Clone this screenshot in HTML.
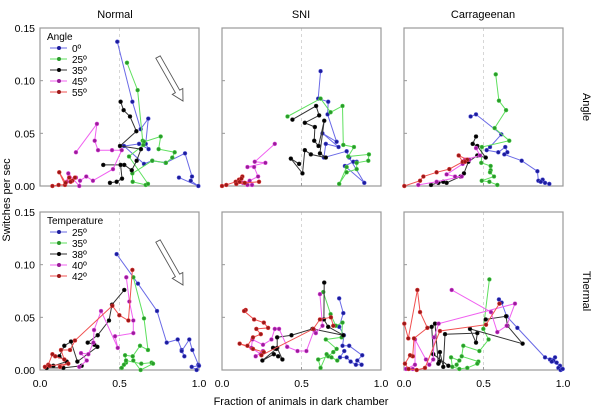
<!DOCTYPE html>
<html><head><meta charset="utf-8">
<style>
html,body{margin:0;padding:0;background:#fff;}
svg{display:block;font-family:"Liberation Sans",Arial,sans-serif;}
</style></head>
<body>
<svg id="chart" width="600" height="419" viewBox="0 0 600 419" xmlns="http://www.w3.org/2000/svg">
<text x="115" y="18" font-size="11" text-anchor="middle">Normal</text>
<text x="301" y="18" font-size="11" text-anchor="middle">SNI</text>
<text x="483" y="18" font-size="11" text-anchor="middle">Carrageenan</text>
<text transform="translate(583,107) rotate(90)" font-size="11" text-anchor="middle">Angle</text>
<text transform="translate(583,291) rotate(90)" font-size="11" text-anchor="middle">Thermal</text>
<text transform="translate(10,200) rotate(-90)" font-size="11" text-anchor="middle">Switches per sec</text>
<text x="301" y="405" font-size="11" text-anchor="middle">Fraction of animals in dark chamber</text>
</svg>
<script>
// Data: [fraction in dark chamber, switches per sec]
const normalAngle0 = [[0.486,0.137],[0.581,0.080],[0.633,0.054],[0.681,0.064],[0.665,0.040],[0.683,0.035],[0.623,0.040],[0.528,0.038],[0.654,0.021],[0.706,0.024],[0.790,0.022],[0.912,0.031],[0.956,0.009],[0.948,0.005],[0.996,0.000],[0.874,0.008]];
const normalAngle25 = [[0.547,0.117],[0.614,0.091],[0.646,0.043],[0.654,0.042],[0.759,0.047],[0.746,0.035],[0.847,0.032],[0.832,0.027],[0.792,0.022],[0.706,0.024],[0.581,0.012],[0.583,0.004],[0.665,0.001],[0.679,0.002],[0.560,0.028],[0.650,0.039]];
const normalAngle35 = [[0.507,0.080],[0.526,0.072],[0.566,0.066],[0.606,0.052],[0.503,0.038],[0.635,0.035],[0.608,0.024],[0.577,0.015],[0.530,0.020],[0.398,0.020],[0.507,0.020],[0.516,0.007],[0.482,0.004],[0.440,0.003]];
const normalAngle45 = [[0.226,0.032],[0.358,0.059],[0.344,0.043],[0.365,0.034],[0.453,0.034],[0.514,0.034],[0.459,0.016],[0.333,0.005],[0.291,0.009],[0.252,0.005],[0.247,0.000],[0.178,0.012],[0.168,0.004],[0.226,0.008]];
const normalAngle55 = [[0.078,0.000],[0.117,0.001],[0.157,0.001],[0.121,0.013],[0.161,0.003],[0.184,0.008],[0.203,0.005],[0.220,0.008],[0.193,0.004]];

const sniAngle0 = [[0.620,0.109],[0.605,0.083],[0.668,0.080],[0.664,0.068],[0.721,0.042],[0.632,0.050],[0.733,0.037],[0.653,0.040],[0.641,0.027],[0.784,0.033],[0.800,0.027],[0.895,0.003],[0.773,0.019],[0.826,0.023],[0.847,0.023]];
const sniAngle25 = [[0.412,0.066],[0.620,0.083],[0.683,0.070],[0.758,0.076],[0.763,0.039],[0.830,0.037],[0.794,0.028],[0.924,0.030],[0.920,0.024],[0.847,0.022],[0.847,0.016],[0.784,0.013],[0.737,0.002],[0.784,0.018]];
const sniAngle35 = [[0.443,0.063],[0.592,0.076],[0.611,0.067],[0.521,0.060],[0.584,0.056],[0.580,0.043],[0.607,0.038],[0.643,0.062],[0.616,0.031],[0.653,0.027],[0.559,0.030],[0.521,0.034],[0.506,0.012],[0.433,0.026],[0.485,0.021]];
const sniAngle45 = [[0.332,0.040],[0.206,0.023],[0.273,0.022],[0.160,0.018],[0.202,0.018],[0.227,0.009],[0.174,0.005],[0.132,0.003],[0.160,0.001],[0.189,0.001]];
const sniAngle55 = [[0.000,0.000],[0.027,0.001],[0.086,0.004],[0.107,0.006],[0.128,0.009],[0.111,0.004],[0.143,0.003],[0.233,0.004],[0.090,0.002],[0.122,0.007]];

const carAngle0 = [[0.419,0.066],[0.453,0.068],[0.612,0.049],[0.541,0.037],[0.520,0.034],[0.593,0.032],[0.637,0.037],[0.650,0.032],[0.631,0.030],[0.740,0.024],[0.839,0.014],[0.845,0.005],[0.872,0.006],[0.887,0.003],[0.914,0.002],[0.860,0.004]];
const carAngle25 = [[0.577,0.106],[0.597,0.081],[0.642,0.072],[0.570,0.055],[0.662,0.043],[0.490,0.037],[0.486,0.022],[0.545,0.019],[0.545,0.015],[0.541,0.013],[0.566,0.009],[0.489,0.005],[0.537,0.004],[0.587,0.001]];
const carAngle35 = [[0.453,0.047],[0.432,0.040],[0.461,0.038],[0.514,0.027],[0.461,0.029],[0.405,0.023],[0.377,0.012],[0.356,0.009],[0.268,0.003],[0.247,0.004],[0.216,0.003],[0.170,0.001]];
const carAngle45 = [[0.453,0.036],[0.478,0.029],[0.384,0.025],[0.411,0.025],[0.369,0.021],[0.268,0.011],[0.321,0.009],[0.363,0.009],[0.205,0.004],[0.090,0.001]];
const carAngle55 = [[0.002,0.000],[0.101,0.005],[0.122,0.009],[0.205,0.013],[0.285,0.016],[0.369,0.023],[0.344,0.029],[0.398,0.025],[0.384,0.023]];

const normalTemp25 = [[0.482,0.110],[0.616,0.082],[0.736,0.056],[0.797,0.026],[0.866,0.029],[0.891,0.019],[0.908,0.013],[0.891,0.018],[0.939,0.029],[0.958,0.019],[0.996,0.005],[0.985,0.000],[0.954,0.003],[1.000,0.004]];
const normalTemp35 = [[0.587,0.088],[0.654,0.049],[0.679,0.019],[0.629,0.023],[0.583,0.013],[0.535,0.014],[0.541,0.007],[0.528,0.005],[0.514,0.002],[0.541,0.009],[0.637,0.006],[0.702,0.007],[0.711,0.006],[0.633,0.000],[0.587,0.009]];
const normalTemp38 = [[0.530,0.076],[0.453,0.062],[0.434,0.047],[0.363,0.033],[0.300,0.026],[0.342,0.024],[0.361,0.022],[0.235,0.008],[0.195,0.027],[0.153,0.023],[0.122,0.013],[0.168,0.008],[0.084,0.004],[0.042,0.002],[0.147,0.002],[0.262,0.004]];
const normalTemp40 = [[0.543,0.088],[0.562,0.065],[0.587,0.047],[0.587,0.035],[0.472,0.032],[0.489,0.021],[0.384,0.056],[0.340,0.038],[0.336,0.026],[0.304,0.015],[0.258,0.016],[0.294,0.009],[0.247,0.003]];
const normalTemp42 = [[0.581,0.095],[0.556,0.047],[0.499,0.052],[0.455,0.061],[0.220,0.028],[0.189,0.019],[0.132,0.019],[0.153,0.010],[0.096,0.013],[0.078,0.015],[0.052,0.005],[0.031,0.003],[0.059,0.004],[0.178,0.006],[0.126,0.003]];

const sniTemp25 = [[0.737,0.068],[0.763,0.054],[0.737,0.041],[0.767,0.033],[0.758,0.023],[0.800,0.023],[0.882,0.014],[0.851,0.009],[0.878,0.005],[0.842,0.005],[0.809,0.008],[0.784,0.012],[0.742,0.012],[0.769,0.018]];
const sniTemp35 = [[0.637,0.074],[0.683,0.053],[0.716,0.042],[0.758,0.045],[0.752,0.031],[0.653,0.029],[0.721,0.020],[0.700,0.017],[0.668,0.013],[0.605,0.010],[0.620,0.002],[0.658,0.015],[0.689,0.012],[0.725,0.009]];
const sniTemp38 = [[0.643,0.083],[0.641,0.048],[0.668,0.041],[0.763,0.033],[0.569,0.039],[0.437,0.033],[0.347,0.031],[0.347,0.021],[0.380,0.010],[0.353,0.013],[0.326,0.015],[0.254,0.009],[0.342,0.020],[0.321,0.021]];
const sniTemp40 = [[0.616,0.072],[0.632,0.042],[0.590,0.035],[0.580,0.038],[0.531,0.018],[0.475,0.018],[0.410,0.022],[0.359,0.039],[0.332,0.039],[0.311,0.029],[0.258,0.024],[0.191,0.029],[0.185,0.021],[0.244,0.015],[0.258,0.018],[0.212,0.013]];
const sniTemp42 = [[0.149,0.057],[0.139,0.056],[0.202,0.048],[0.263,0.045],[0.290,0.040],[0.216,0.039],[0.244,0.034],[0.195,0.031],[0.160,0.023],[0.111,0.025],[0.195,0.020],[0.263,0.017],[0.248,0.014],[0.574,0.039],[0.616,0.048],[0.685,0.050],[0.700,0.042]];

const carTemp25 = [[0.597,0.067],[0.614,0.064],[0.646,0.051],[0.713,0.040],[0.887,0.012],[0.918,0.010],[0.950,0.012],[0.939,0.009],[0.960,0.007],[0.929,0.008],[0.981,0.004],[0.971,0.002],[0.985,0.000],[0.998,0.001]];
const carTemp35 = [[0.537,0.086],[0.499,0.039],[0.532,0.029],[0.474,0.018],[0.373,0.023],[0.363,0.013],[0.468,0.008],[0.461,0.006],[0.398,0.002],[0.348,0.001],[0.304,0.003],[0.296,0.012],[0.348,0.009],[0.331,0.005]];
const carTemp38 = [[0.514,0.048],[0.642,0.051],[0.650,0.042],[0.746,0.025],[0.415,0.039],[0.453,0.026],[0.461,0.035],[0.258,0.034],[0.247,0.003],[0.226,0.017],[0.222,0.008],[0.216,0.006],[0.195,0.044],[0.174,0.041],[0.184,0.015],[0.279,0.004]];
const carTemp40 = [[0.300,0.076],[0.547,0.055],[0.587,0.036],[0.646,0.042],[0.698,0.063],[0.218,0.044],[0.189,0.031],[0.184,0.010],[0.159,0.005],[0.138,0.010],[0.069,0.029],[0.069,0.005],[0.013,0.001],[0.055,0.001]];
const carTemp42 = [[0.002,0.044],[0.027,0.030],[0.084,0.076],[0.101,0.055],[0.147,0.040],[0.063,0.030],[0.055,0.013],[0.038,0.014],[0.006,0.006],[0.029,0.001],[0.080,0.000],[0.132,0.002],[0.226,0.037],[0.516,0.043],[0.600,0.063]];

const yTicks = [0, 0.05, 0.10, 0.15];
const yTickLabels = ["0.00","0.05","0.10","0.15"];
const xTicks = [0, 0.5, 1.0];
const xTickLabels = ["0.0","0.5","1.0"];
const angleLabels = ["0º","25º","35º","45º","55º"];
const tempLabels = ["25º","35º","38º","40º","42º"];

const lineColors = ["#6a6ae6","#5ee05e","#333333","#f060f0","#f05050"];
const markColors = ["#1c1c9c","#2a9a2a","#000000","#9a1c9a","#9c1818"];
const NS = "http://www.w3.org/2000/svg";
const svg = document.getElementById('chart');
const PW = 159, PH = 158;
const panels = [
  {x:40, y:28, series:[normalAngle0,normalAngle25,normalAngle35,normalAngle45,normalAngle55], name:'normal-angle', legend:'Angle', labels:angleLabels, arrow:true, yl:true, xl:false},
  {x:222,y:28, series:[sniAngle0,sniAngle25,sniAngle35,sniAngle45,sniAngle55], name:'sni-angle', xl:false},
  {x:404,y:28, series:[carAngle0,carAngle25,carAngle35,carAngle45,carAngle55], name:'carrageenan-angle', xl:false},
  {x:40, y:212,series:[normalTemp25,normalTemp35,normalTemp38,normalTemp40,normalTemp42], name:'normal-thermal', legend:'Temperature', labels:tempLabels, arrow:true, yl:true, xl:true},
  {x:222,y:212,series:[sniTemp25,sniTemp35,sniTemp38,sniTemp40,sniTemp42], name:'sni-thermal', xl:true},
  {x:404,y:212,series:[carTemp25,carTemp35,carTemp38,carTemp40,carTemp42], name:'carrageenan-thermal', xl:true}
];
function mk(tag, attrs, parent){
  const e = document.createElementNS(NS, tag);
  for (const k in attrs) e.setAttribute(k, attrs[k]);
  (parent||svg).appendChild(e);
  return e;
}
panels.forEach(p => {
  const g = mk('g', {});
  
  
  const sx = v => p.x + v * PW;
  const sy = v => p.y + PH - v / 0.15 * PH;
  const ref = mk('line', {x1:sx(0.5), x2:sx(0.5), y1:p.y, y2:p.y+PH, stroke:'#cccccc', 'stroke-width':0.8, 'stroke-dasharray':'3,3'}, g);
  
  
  const fr = mk('rect', {x:p.x, y:p.y, width:PW, height:PH, fill:'none', stroke:'#999999', 'stroke-width':1.2}, g);
  
  
  yTicks.forEach((t,i) => {
    mk('line', {x1:p.x, x2:p.x+3, y1:sy(t), y2:sy(t), stroke:'#999', 'stroke-width':1}, g);
    if (p.yl) {
      const tx = mk('text', {x:p.x-5, y:sy(t)+4, 'font-size':10.5, 'text-anchor':'end'}, g);
      
      
      tx.textContent = yTickLabels[i];
    }
  });
  xTicks.forEach((t,i) => {
    mk('line', {x1:sx(t), x2:sx(t), y1:p.y+PH, y2:p.y+PH-3, stroke:'#999', 'stroke-width':1}, g);
    if (p.xl) {
      const tx = mk('text', {x:sx(t), y:p.y+PH+17, 'font-size':10.5, 'text-anchor':'middle'}, g);
      
      
      tx.textContent = xTickLabels[i];
    }
  });
  p.series.forEach((s, si) => {
    const sg = mk('g', {}, g);
    
    
    const pl = mk('polyline', {points: s.map(d => sx(d[0]).toFixed(1)+','+sy(d[1]).toFixed(1)).join(' '), fill:'none', stroke:lineColors[si], 'stroke-width':1}, sg);
    
    
    s.forEach(d => {
      const c = mk('circle', {cx:sx(d[0]), cy:sy(d[1]), r:2, fill:markColors[si], stroke:lineColors[si], 'stroke-width':0.5}, sg);
      
      
    });
  });
  if (p.legend) {
    const lg = mk('g', {}, g);
    
    
    const lt = mk('text', {x:p.x+7, y:p.y+12, 'font-size':10}, lg);
    
    
    lt.textContent = p.legend;
    p.labels.forEach((lab, i) => {
      const yy = p.y + 20 + i * 11;
      mk('line', {x1:p.x+10, x2:p.x+27, y1:yy, y2:yy, stroke:lineColors[i], 'stroke-width':1}, lg);
      mk('circle', {cx:p.x+19, cy:yy, r:2, fill:markColors[i]}, lg);
      const t = mk('text', {x:p.x+32, y:yy+4, 'font-size':10}, lg);
      
      
      t.textContent = lab;
    });
  }
  if (p.arrow) {
    const ax0 = p.x + 118, ay0 = p.y + 29, ax1 = p.x + 143, ay1 = p.y + 73;
    const dx = ax1-ax0, dy = ay1-ay0, L = Math.hypot(dx,dy), ux = dx/L, uy = dy/L, nx = -uy, ny = ux;
    const w = 2.5, hw = 6, hl = 11;
    const bx = ax1 - ux*hl, by = ay1 - uy*hl;
    const pts = [[ax0+nx*w, ay0+ny*w],[bx+nx*w, by+ny*w],[bx+nx*hw, by+ny*hw],[ax1, ay1],[bx-nx*hw, by-ny*hw],[bx-nx*w, by-ny*w],[ax0-nx*w, ay0-ny*w]];
    const ar = mk('polygon', {points: pts.map(q=>q[0].toFixed(1)+','+q[1].toFixed(1)).join(' '), fill:'#fff', stroke:'#555', 'stroke-width':0.9}, g);
    
    
  }
});
</script>
</body></html>
